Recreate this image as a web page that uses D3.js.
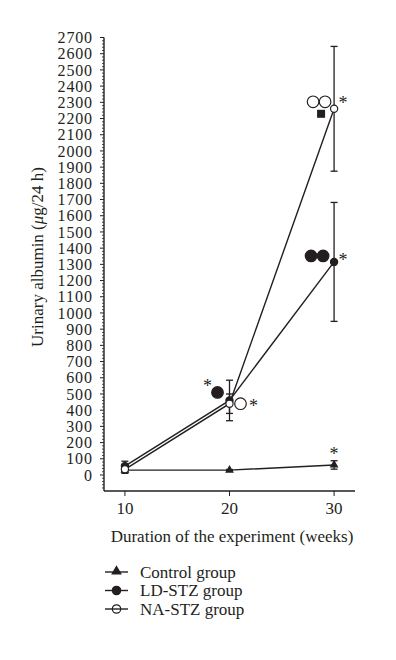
<!DOCTYPE html>
<html>
<head>
<meta charset="utf-8">
<script src="https://cdn.jsdelivr.net/npm/d3@7"></script>
<style>
  body { margin: 0; background: #fff; }
  text { font-family: "Liberation Serif", "DejaVu Serif", serif; fill: #231f20; }
</style>
</head>
<body>
<div id="chart"></div>
<script>
// values (urinary albumin, µg/24 h)
const weeks = [10, 20, 30];
const controlMean = [30, 30, 62];
const controlSD = [12, 4, 26];
const ldMean = [55, 460, 1315];
const ldSD = [30, 125, 367];
const naMean = [35, 440, 2260];
const naSD = [25, 60, 385];
const yTicks = d3.range(0, 2701, 100);
const xTicks = [10, 20, 30];
const legendLabels = ["Control group", "LD-STZ group", "NA-STZ group"];

const width = 396, height = 660;
const ink = "#231f20";

const svg = d3.select("#chart").append("svg")
    .attr("width", width)
    .attr("height", height);

const x = d3.scaleLinear().domain([8, 32]).range([104, 355]);
const y = d3.scaleLinear().domain([0, 2700]).range([475, 37.5]);
const yBottom = 491;

// y axis
const yAxis = svg.append("g").attr("transform", "translate(104,0)");
yAxis.append("line")
    .attr("y1", y(2700)).attr("y2", yBottom)
    .attr("stroke", ink).attr("stroke-width", 1.4);
yAxis.selectAll(".minor")
  .data(d3.range(-80, 2701, 20).filter(v => v % 100 !== 0))
  .join("line")
    .attr("x1", -2).attr("x2", 0)
    .attr("y1", d => y(d)).attr("y2", d => y(d))
    .attr("stroke", ink).attr("stroke-width", 0.8);
yAxis.selectAll(".major")
  .data(yTicks)
  .join("line")
    .attr("x1", -4).attr("x2", 0)
    .attr("y1", d => y(d)).attr("y2", d => y(d))
    .attr("stroke", ink).attr("stroke-width", 1);
yAxis.selectAll(".ylab")
  .data(yTicks)
  .join("text")
    .attr("x", -12)
    .attr("y", d => y(d))
    .attr("dy", "0.35em")
    .attr("text-anchor", "end")
    .attr("font-size", 16)
    .attr("textLength", d => String(d).length * 8.6)
    .text(d => d);

// x axis
const xAxis = svg.append("g").attr("transform", `translate(0,${yBottom})`);
xAxis.append("line")
    .attr("x1", 104).attr("x2", 355)
    .attr("stroke", ink).attr("stroke-width", 1.4);
xAxis.selectAll(".xt")
  .data(xTicks)
  .join("line")
    .attr("x1", d => x(d)).attr("x2", d => x(d))
    .attr("y1", 0).attr("y2", 5)
    .attr("stroke", ink).attr("stroke-width", 1);
xAxis.selectAll(".xlab")
  .data(xTicks)
  .join("text")
    .attr("x", d => x(d))
    .attr("y", 23)
    .attr("text-anchor", "middle")
    .attr("font-size", 17)
    .text(d => d);

svg.append("text")
    .attr("x", 232).attr("y", 542)
    .attr("text-anchor", "middle")
    .attr("font-size", 17)
    .text("Duration of the experiment (weeks)");

const yTitle = svg.append("text")
    .attr("transform", "translate(43,257) rotate(-90)")
    .attr("text-anchor", "middle")
    .attr("font-size", 17);
yTitle.append("tspan").text("Urinary albumin (");
yTitle.append("tspan").attr("font-style", "italic").text("μ");
yTitle.append("tspan").text("g/24 h)");

// series
const series = [
  { mean: controlMean, sd: controlSD, kind: "triangle" },
  { mean: ldMean, sd: ldSD, kind: "filled" },
  { mean: naMean, sd: naSD, kind: "open" }
];

const line = d3.line().x((d, i) => x(weeks[i])).y(d => y(d));
const tri = d3.symbol().type(d3.symbolTriangle).size(34);

series.forEach(s => {
  const g = svg.append("g");
  g.append("path")
    .attr("d", line(s.mean))
    .attr("fill", "none")
    .attr("stroke", ink)
    .attr("stroke-width", 1.4);
  // error bars
  s.mean.forEach((m, i) => {
    const cx = x(weeks[i]);
    const lo = y(m - s.sd[i]), hi = y(m + s.sd[i]);
    g.append("line").attr("x1", cx).attr("x2", cx).attr("y1", lo).attr("y2", hi)
      .attr("stroke", ink).attr("stroke-width", 1.3);
    [lo, hi].forEach(v => g.append("line")
      .attr("x1", cx - 3.5).attr("x2", cx + 3.5).attr("y1", v).attr("y2", v)
      .attr("stroke", ink).attr("stroke-width", 1.3));
  });
  s.mean.forEach((m, i) => {
    const cx = x(weeks[i]), cy = y(m);
    if (s.kind === "triangle") {
      g.append("path").attr("d", tri).attr("transform", `translate(${cx},${cy})`)
        .attr("fill", ink);
    } else {
      g.append("circle").attr("cx", cx).attr("cy", cy).attr("r", 3.6)
        .attr("fill", s.kind === "filled" ? ink : "#fff")
        .attr("stroke", ink).attr("stroke-width", 1.2);
    }
  });
});

// significance marks beside points
function star(px, py) {
  svg.append("text").attr("x", px).attr("y", py).attr("font-size", 18)
    .attr("text-anchor", "middle").text("*");
}
function dot(px, py, filled) {
  svg.append("circle").attr("cx", px).attr("cy", py).attr("r", 5.8)
    .attr("fill", filled ? ink : "#fff")
    .attr("stroke", ink).attr("stroke-width", 1.2);
}

// week 20
const x20 = x(weeks[1]);
const ld20y = y(ldMean[1]);
dot(x20 - 12, ld20y - 8, true);
star(x20 - 22, ld20y - 8);
const na20y = y(naMean[1]);
dot(x20 + 11, na20y, false);
star(x20 + 24, na20y + 8);

// week 30
const x30 = x(weeks[2]);
const ld30y = y(ldMean[2]);
dot(x30 - 23, ld30y - 6, true);
dot(x30 - 11, ld30y - 6, true);
star(x30 + 9, ld30y + 4);
const na30y = y(naMean[2]);
dot(x30 - 21, na30y - 7, false);
dot(x30 - 9, na30y - 7, false);
svg.append("rect").attr("x", x30 - 17).attr("y", na30y + 1).attr("width", 8).attr("height", 8)
  .attr("fill", ink);
star(x30 + 9, na30y);
star(x30, y(controlMean[2] + controlSD[2]) - 1);

// legend
const legend = svg.append("g");
legendLabels.forEach((lab, i) => {
  const ly = 572 + i * 18.5;
  if (i === 0) {
    legend.append("path").attr("d", d3.symbol().type(d3.symbolTriangle).size(50))
      .attr("transform", `translate(116.5,${ly - 0.5})`).attr("fill", ink);
  } else {
    legend.append("circle").attr("cx", 116.5).attr("cy", ly).attr("r", 4.2)
      .attr("fill", i === 1 ? ink : "#fff").attr("stroke", ink).attr("stroke-width", 1.2);
  }
  legend.append("line").attr("x1", 105).attr("x2", 128).attr("y1", ly).attr("y2", ly)
    .attr("stroke", ink).attr("stroke-width", 1.4);
  legend.append("text").attr("x", 140).attr("y", ly).attr("dy", "0.33em")
    .attr("font-size", 17).text(lab);
});
</script>
</body>
</html>
